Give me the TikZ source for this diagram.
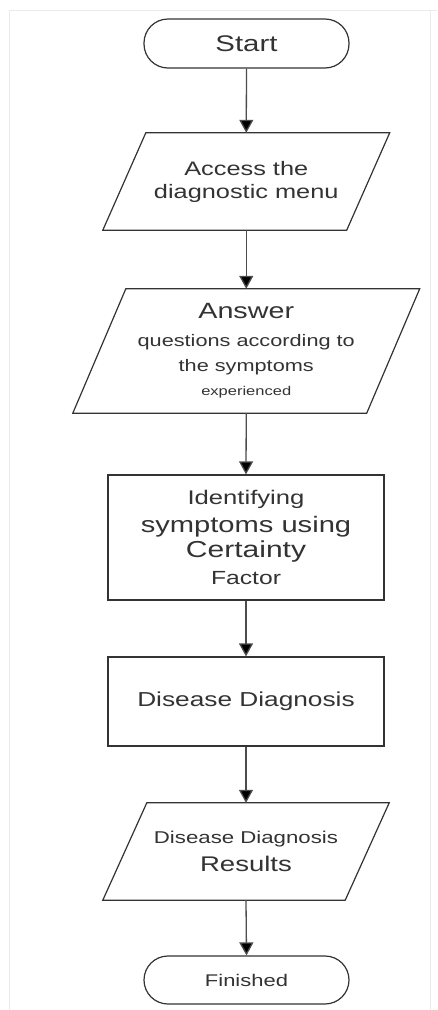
\documentclass[tikz,border=0pt]{standalone}
\usepackage{fontspec}
\setmainfont[FakeStretch=1.3]{Liberation Sans}
\usetikzlibrary{arrows.meta,calc}
\newcommand{\fs}[2]{\fontsize{#1}{#2}\selectfont}
\newcommand{\lines}[1]{\parbox[c]{228pt}{\centering\parskip=0pt #1}}
\tikzset{
  x=1pt, y=-1pt,
  shapeline/.style={draw=black!80, line width=1.2pt},
  txt/.style={text=black!80, align=center, inner sep=0pt},
  terminal/.style={shapeline, txt, rounded corners=24pt, minimum width=205pt, minimum height=49pt},
  process/.style={shapeline, txt, minimum width=276pt},
  iobox/.style={txt},
  flow/.style={draw=black!70, line width=1.3pt, -{Triangle[width=14pt,length=13pt,fill=black]}},
  frameline/.style={draw=black!8, line width=1pt}
}
\begin{document}
\begin{tikzpicture}
\useasboundingbox (0,0) rectangle (437,1010);
\fill[white] (0,0) rectangle (437,1010);
% faint frame
\draw[frameline] (9,1010) -- (9,10) -- (437,10);
\draw[frameline] (430,10) -- (430,1010);

% nodes
\node[terminal] (start) at (246.5,43.5) {\fs{22.6}{27}Start};

\node[iobox, minimum width=243.5pt, minimum height=97pt] (p1) at (246.25,181.5)
  {\lines{\fs{19.5}{23}Access the\par\fs{19.5}{23}diagnostic menu\par}};

\node[iobox, minimum width=293.5pt, minimum height=124pt] (p2) at (246.25,351)
  {\lines{\fs{22.1}{26}Answer\par\fs{16.7}{28}questions according to\par\fs{16.7}{25}the symptoms\par\fs{12.7}{24}experienced\par}};

\node[process, minimum height=125pt] (r1) at (246,537.5)
  {\lines{\fs{19.7}{24}Identifying\par\fs{22.4}{28}symptoms using\par\fs{23.1}{25}Certainty\par\fs{19}{27}Factor\par}};

\node[process, minimum height=89pt] (r2) at (246,701.5)
  {\fs{20.2}{24}Disease Diagnosis};

\node[iobox, minimum width=242pt, minimum height=97pt] (p3) at (246,851.5)
  {\lines{\fs{17.1}{21}Disease Diagnosis\par\fs{21.2}{28}Results\par}};

\node[terminal, minimum height=48pt] (finish) at (246.5,980) {\fs{16.9}{20}Finished};

% parallelogram outlines
\draw[shapeline] ([xshift=21.5pt]p1.north west) -- ([xshift=21.5pt]p1.north east)
  -- ([xshift=-21.5pt]p1.south east) -- ([xshift=-21.5pt]p1.south west) -- cycle;
\draw[shapeline] ([xshift=26.5pt]p2.north west) -- ([xshift=26.5pt]p2.north east)
  -- ([xshift=-26.5pt]p2.south east) -- ([xshift=-26.5pt]p2.south west) -- cycle;
\draw[shapeline] ([xshift=22pt]p3.north west) -- ([xshift=22pt]p3.north east)
  -- ([xshift=-22pt]p3.south east) -- ([xshift=-22pt]p3.south west) -- cycle;

% connectors
\draw[flow] (start.south) -- (p1.north);
\draw[flow] (p1.south) -- (p2.north);
\draw[flow] (p2.south) -- (r1.north);
\draw[flow] (r1.south) -- (r2.north);
\draw[flow] (r2.south) -- (p3.north);
\draw[flow] (p3.south) -- (finish.north);
\end{tikzpicture}
\end{document}
